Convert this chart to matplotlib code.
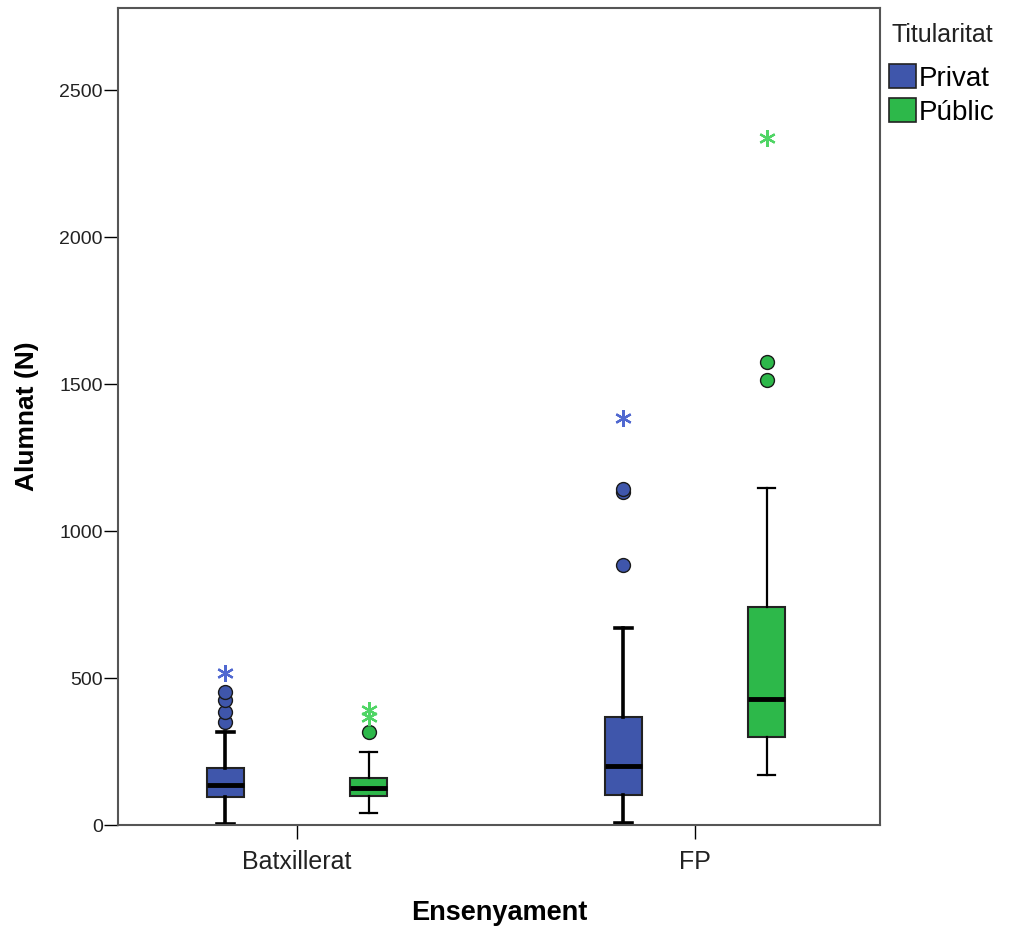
import matplotlib
matplotlib.use('Agg')
import matplotlib.pyplot as plt
from matplotlib.patches import Patch

plt.rcParams['font.family'] = ['Liberation Sans', 'DejaVu Sans']

# data
categories = ['Batxillerat', 'FP']
groups = ['Privat', 'Públic']
colors = {'Privat': '#3f56ab', 'Públic': '#2db84a'}
star_colors = {'Privat': '#5068d0', 'Públic': '#4fd565'}

# (whislo, q1, med, q3, whishi)
box_stats = {
    ('Batxillerat', 'Privat'): (5, 95, 136, 194, 316),
    ('Batxillerat', 'Públic'): (41, 99, 126, 160, 248),
    ('FP', 'Privat'): (7, 102, 201, 367, 670),
    ('FP', 'Públic'): (170, 299, 428, 741, 1146),
}
outliers = {
    ('Batxillerat', 'Privat'): [350, 384, 425, 452],
    ('Batxillerat', 'Públic'): [316],
    ('FP', 'Privat'): [884, 1132, 1142],
    ('FP', 'Públic'): [1514, 1575],
}
extremes = {
    ('Batxillerat', 'Privat'): [517],
    ('Batxillerat', 'Públic'): [367, 391],
    ('FP', 'Privat'): [1384],
    ('FP', 'Públic'): [2337],
}
whisker_lw = {'Privat': 2.6, 'Públic': 1.6}

fig = plt.figure(figsize=(10.13, 9.27), dpi=100)
ax = fig.add_axes([0.1165, 0.110, 0.7522, 0.8814])

offsets = {'Privat': -0.18, 'Públic': 0.18}
width = 0.093

for i, cat in enumerate(categories):
    for g in groups:
        lo, q1, med, q3, hi = box_stats[(cat, g)]
        st = [dict(whislo=lo, q1=q1, med=med, q3=q3, whishi=hi, fliers=[])]
        pos = i + offsets[g]
        lw = whisker_lw[g]
        ax.bxp(st, positions=[pos], widths=width, patch_artist=True,
               showfliers=False,
               boxprops=dict(facecolor=colors[g], edgecolor='#222222', linewidth=1.5),
               medianprops=dict(color='black', linewidth=3.5),
               whiskerprops=dict(color='black', linewidth=lw),
               capprops=dict(color='black', linewidth=lw),
               capwidths=width * 0.45)
        ov = outliers[(cat, g)]
        ax.plot([pos] * len(ov), ov, 'o', markersize=10, markerfacecolor=colors[g],
                markeredgecolor='#1a1a1a', markeredgewidth=1.0, zorder=4)
        ev = extremes[(cat, g)]
        ax.plot([pos] * len(ev), ev, marker=(6, 2, 0), linestyle='none',
                markersize=12, color=star_colors[g], markeredgewidth=1.6, zorder=4)

ax.set_xlim(-0.45, 1.465)
ax.set_ylim(0, 2780)
ax.set_xticks(range(len(categories)))
ax.set_xticklabels(categories, fontsize=18, color='#222222')
ax.set_yticks([0, 500, 1000, 1500, 2000, 2500])
ax.tick_params(axis='y', labelsize=14, length=10, width=1, direction='out', pad=1,
               labelcolor='#222222')
ax.tick_params(axis='x', length=10, width=1, direction='out', pad=8)
for sp in ax.spines.values():
    sp.set_color('#555555')
    sp.set_linewidth(1.5)

ax.set_xlabel('Ensenyament', fontsize=19.5, fontweight='bold', labelpad=19)
ax.set_ylabel('Alumnat (N)', fontsize=19, fontweight='bold')
ax.yaxis.set_label_coords(-0.104, 0.5)

fig.text(891 / 1013, 1 - 35 / 927, 'Titularitat', fontsize=18, va='center', ha='left',
         color='#222222')
handles = [Patch(facecolor=colors[g], edgecolor='#222222', linewidth=1.2, label=g) for g in groups]
leg = fig.legend(handles=handles, loc='upper left',
                 bbox_to_anchor=(889 / 1013, 1 - 64 / 927), frameon=False, fontsize=20,
                 handlelength=0.97, handleheight=0.97, borderpad=0,
                 handletextpad=0.1, labelspacing=0.22, borderaxespad=0)

fig.savefig('out.png', dpi=100)
